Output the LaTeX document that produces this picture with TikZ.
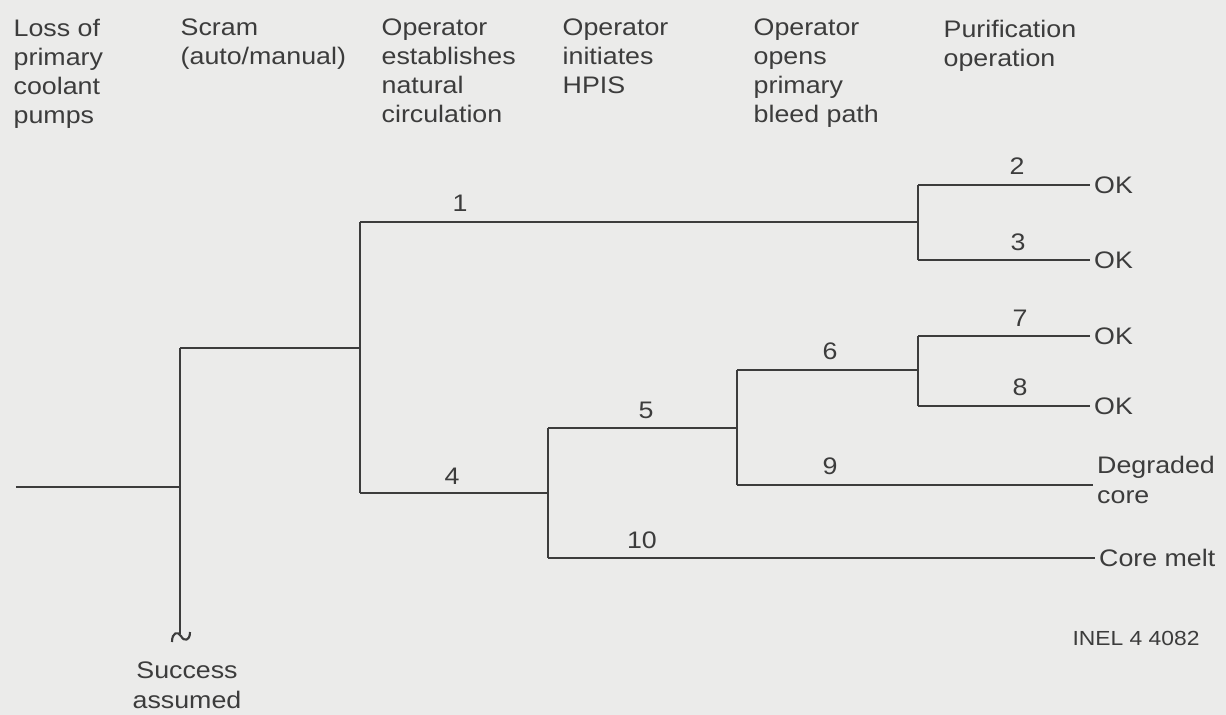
\documentclass[tikz,border=0pt]{standalone}
\usepackage{fontspec}
\setmainfont{Liberation Sans}[FakeStretch=1.12]
\usetikzlibrary{positioning}
\definecolor{paper}{HTML}{EBEBEA}
\definecolor{ink}{HTML}{3C3C3C}

\begin{document}
\begin{tikzpicture}[x=0.01cm,y=-0.01cm,
  font=\fontsize{6.8}{8.25}\selectfont,text=ink,
  hdr/.style={anchor=north west,align=left,inner sep=0pt},
  num/.style={anchor=base,inner sep=0pt},
  outc/.style={anchor=west,align=left,inner ysep=0pt,inner xsep=1pt},
  br/.style={draw=ink,line width=0.6pt}]

  \fill[paper] (0,0) rectangle (1226,715);

  % column headings
  \node[hdr] (h1) at (13,18) {Loss of\\primary\\coolant\\pumps};
  \node[hdr] (h2) at (180,18) {Scram\\(auto/manual)};
  \node[hdr] (h3) at (381,18) {Operator\\establishes\\natural\\circulation};
  \node[hdr] (h4) at (562,18) {Operator\\initiates\\HPIS};
  \node[hdr] (h5) at (753,18) {Operator\\opens\\primary\\bleed path};
  \node[hdr] (h6) at (943,19) {Purification\\operation};

  % branch points
  \coordinate (ie) at (16,487);
  \coordinate (scr) at (180,487);
  \coordinate (scrU) at (180,348);
  \coordinate (scrD) at (180,634);
  \coordinate (b1) at (360,222);
  \coordinate (b4) at (360,493);
  \coordinate (b2) at (918,185);
  \coordinate (b3) at (918,260);
  \coordinate (b5) at (548,428);
  \coordinate (b10) at (548,558);
  \coordinate (b6) at (737,370);
  \coordinate (b9) at (737,485);
  \coordinate (b7) at (918,336);
  \coordinate (b8) at (918,406);

  % outcomes
  \node[outc] (o2) at (1090,185) {OK};
  \node[outc] (o3) at (1090,260) {OK};
  \node[outc] (o7) at (1090,336) {OK};
  \node[outc] (o8) at (1090,406) {OK};
  \node[outc,anchor=base west] (dc) at (1093,503) {Degraded\\core};
  \node[outc] (cm) at (1095,558) {Core melt};

  \draw[br] (ie) -- (scr);
  \draw[br] (scrU) -- (scrD);
  \draw[br] (172,642) .. controls (172,632) and (178,631) .. (181,636)
    .. controls (184,642) and (190,641) .. (190,632);
  \draw[br] (scrU) -- (b1 |- scrU);
  \draw[br] (b1) -- (b4);
  \draw[br] (b1) -- (b2 |- b1);
  \draw[br] (b2) -- (b3);
  \draw[br] (b2) -- (o2.west);
  \draw[br] (b3) -- (o3.west);
  \draw[br] (b4) -- (b5 |- b4);
  \draw[br] (b5) -- (b10);
  \draw[br] (b5) -- (b6 |- b5);
  \draw[br] (b10) -- (cm.west);
  \draw[br] (b6) -- (b9);
  \draw[br] (b6) -- (b7 |- b6);
  \draw[br] (b9) -- (b9 -| dc.west);
  \draw[br] (b7) -- (b8);
  \draw[br] (b7) -- (o7.west);
  \draw[br] (b8) -- (o8.west);

  % sequence numbers
  \foreach \n/\x/\y in {1/460/212,2/1017/175,3/1018/250,4/452/484,
    5/646/418,6/830/360,7/1020/326,8/1020/396,9/830/475,10/642/548}
    \node[num] (n\n) at (\x,\y) {\n};

  \node[anchor=base,align=center,inner sep=0pt] (sa) at (187,708)
    {Success\\assumed};
  \node[anchor=base,inner sep=0pt,font=\fontsize{5.8}{7}\selectfont]
    (inel) at (1136,645) {INEL 4 4082};
\end{tikzpicture}
\end{document}
